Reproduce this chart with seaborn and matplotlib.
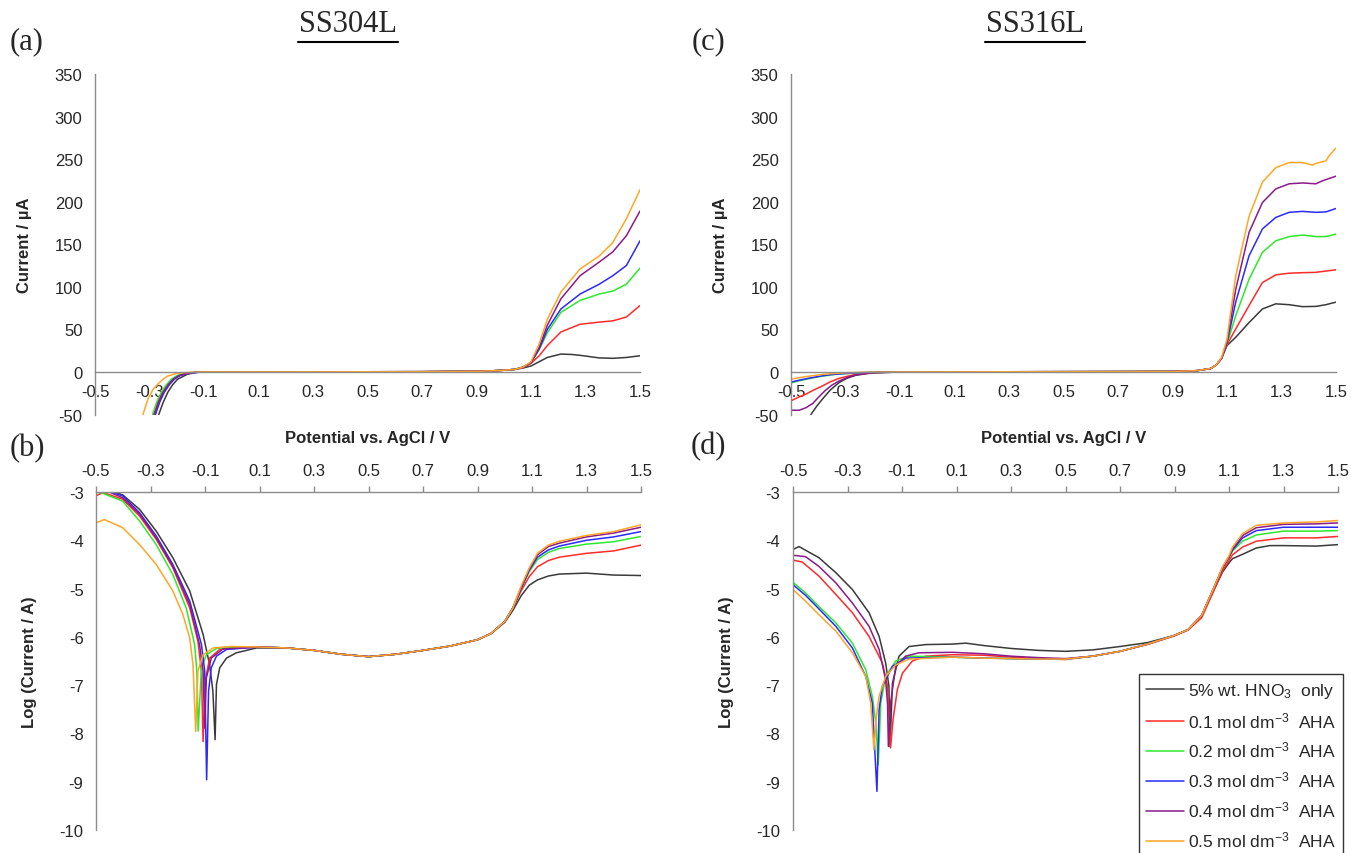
import numpy as np
import pandas as pd
import matplotlib.pyplot as plt
import seaborn as sns
from matplotlib.lines import Line2D

LABELS = [r"5% wt. HNO$_3$  only", r"0.1 mol dm$^{-3}$  AHA", r"0.2 mol dm$^{-3}$  AHA",
          r"0.3 mol dm$^{-3}$  AHA", r"0.4 mol dm$^{-3}$  AHA", r"0.5 mol dm$^{-3}$  AHA"]
COLORS = ["#3a3a3a", "#ff2a2a", "#2ee82e", "#2a2aff", "#8b1a8b", "#ffa626"]

XTICKS = [-0.5, -0.3, -0.1, 0.1, 0.3, 0.5, 0.7, 0.9, 1.1, 1.3, 1.5]
XTICK_LABELS = ["-0.5", "-0.3", "-0.1", "0.1", "0.3", "0.5", "0.7", "0.9", "1.1", "1.3", "1.5"]
YTICKS_LIN = [-50, 0, 50, 100, 150, 200, 250, 300, 350]
YTICKS_LOG = [-10, -9, -8, -7, -6, -5, -4, -3]

# (a) SS304L, current in uA
a_black_x = [-0.266, -0.25, -0.233, -0.215, -0.197, -0.16, -0.124, -0.1, 0.3, 0.7, 0.9, 0.95, 1.0, 1.04, 1.07, 1.1, 1.13, 1.16, 1.21, 1.25, 1.28, 1.35, 1.4, 1.45, 1.5]
a_black_y = [-50, -36, -24, -15, -8.6, -2.5, -0.5, 0, 0.1, 0.3, 0.8, 1.2, 2, 3, 4.5, 7, 12, 17, 21, 20.5, 19.5, 16.5, 16, 17, 19]
a_red_x = [-0.285, -0.269, -0.253, -0.234, -0.216, -0.196, -0.176, -0.136, -0.1, 0.3, 0.7, 0.9, 0.95, 1.0, 1.04, 1.07, 1.1, 1.13, 1.16, 1.21, 1.28, 1.35, 1.4, 1.45, 1.5]
a_red_y = [-50, -35, -24, -15, -8.6, -4.5, -2.5, -0.5, 0, 0.1, 0.3, 0.8, 1.2, 2, 3, 5, 10, 19, 31, 47, 56, 58.5, 60, 64.5, 78]
a_green_x = [-0.289, -0.273, -0.257, -0.238, -0.22, -0.2, -0.18, -0.14, -0.1, 0.3, 0.7, 0.9, 0.95, 1.0, 1.04, 1.07, 1.1, 1.13, 1.16, 1.21, 1.28, 1.35, 1.4, 1.45, 1.5]
a_green_y = [-50, -35, -24, -15, -8.6, -4.5, -2.5, -0.5, 0, 0.1, 0.3, 0.8, 1.2, 2, 3, 5.5, 11, 26, 46, 70, 84, 91.5, 95, 103, 122]
a_blue_x = [-0.278, -0.262, -0.246, -0.227, -0.209, -0.189, -0.169, -0.129, -0.1, 0.3, 0.7, 0.9, 0.95, 1.0, 1.04, 1.07, 1.1, 1.13, 1.16, 1.21, 1.28, 1.35, 1.4, 1.45, 1.5]
a_blue_y = [-50, -35, -24, -15, -8.6, -4.5, -2.5, -0.5, 0, 0.1, 0.3, 0.8, 1.2, 2, 3, 5.5, 11, 27, 50, 74, 91.5, 103, 113, 125, 154]
a_purple_x = [-0.282, -0.266, -0.25, -0.231, -0.213, -0.193, -0.173, -0.133, -0.1, 0.3, 0.7, 0.9, 0.95, 1.0, 1.04, 1.07, 1.1, 1.13, 1.16, 1.21, 1.28, 1.35, 1.4, 1.45, 1.5]
a_purple_y = [-50, -35, -24, -15, -8.6, -4.5, -2.5, -0.5, 0, 0.1, 0.3, 0.8, 1.2, 2, 3, 5.5, 11, 29, 55, 86, 113, 129, 141, 160, 189]
a_orange_x = [-0.324, -0.306, -0.288, -0.27, -0.25, -0.233, -0.2, -0.18, -0.14, -0.1, 0.3, 0.7, 0.9, 0.95, 1.0, 1.04, 1.07, 1.1, 1.13, 1.16, 1.21, 1.28, 1.35, 1.4, 1.45, 1.5]
a_orange_y = [-50, -32, -21, -14.5, -8.5, -4.7, -1.8, -1, -0.3, 0, 0.1, 0.3, 0.8, 1.2, 2, 3, 5.5, 12, 33, 62, 94, 121, 136, 152, 180, 214]

# (b) SS304L, log current
b_black_x = [-0.46, -0.433, -0.402, -0.34, -0.279, -0.218, -0.156, -0.107, -0.083, -0.071, -0.063, -0.058, -0.046, -0.021, 0.015, 0.089, 0.2, 0.3, 0.4, 0.5, 0.6, 0.7, 0.8, 0.9, 0.95, 1.0, 1.03, 1.06, 1.09, 1.12, 1.16, 1.2, 1.3, 1.4, 1.5]
b_black_y = [-2.85, -3.0, -3.06, -3.36, -3.81, -4.36, -5.05, -5.95, -6.58, -7.13, -8.13, -6.99, -6.64, -6.44, -6.33, -6.23, -6.23, -6.28, -6.36, -6.41, -6.36, -6.28, -6.19, -6.06, -5.93, -5.7, -5.45, -5.15, -4.93, -4.82, -4.74, -4.7, -4.68, -4.72, -4.73]
b_red_x = [-0.5, -0.475, -0.402, -0.34, -0.279, -0.218, -0.156, -0.126, -0.113, -0.107, -0.097, -0.083, -0.046, 0.0, 0.1, 0.2, 0.3, 0.4, 0.5, 0.6, 0.7, 0.8, 0.9, 0.95, 1.0, 1.03, 1.06, 1.09, 1.12, 1.16, 1.2, 1.3, 1.4, 1.5]
b_red_y = [-3.08, -3.01, -3.15, -3.5, -3.98, -4.57, -5.4, -6.09, -6.71, -8.17, -6.85, -6.44, -6.26, -6.22, -6.21, -6.23, -6.28, -6.36, -6.41, -6.36, -6.28, -6.19, -6.06, -5.93, -5.68, -5.4, -5.05, -4.75, -4.55, -4.42, -4.35, -4.27, -4.22, -4.1]
b_green_x = [-0.5, -0.488, -0.402, -0.34, -0.279, -0.218, -0.169, -0.138, -0.13, -0.125, -0.113, -0.095, -0.058, 0.0, 0.1, 0.2, 0.3, 0.4, 0.5, 0.6, 0.7, 0.8, 0.9, 0.95, 1.0, 1.03, 1.06, 1.09, 1.12, 1.16, 1.2, 1.3, 1.4, 1.5]
b_green_y = [-3.02, -3.0, -3.19, -3.6, -4.09, -4.71, -5.4, -6.16, -6.71, -7.95, -6.64, -6.37, -6.24, -6.21, -6.21, -6.23, -6.28, -6.36, -6.41, -6.36, -6.28, -6.19, -6.06, -5.93, -5.68, -5.4, -5.0, -4.65, -4.4, -4.25, -4.17, -4.08, -4.03, -3.92]
b_blue_x = [-0.5, -0.445, -0.402, -0.34, -0.279, -0.218, -0.156, -0.113, -0.101, -0.094, -0.087, -0.077, -0.058, -0.021, 0.1, 0.2, 0.3, 0.4, 0.5, 0.6, 0.7, 0.8, 0.9, 0.95, 1.0, 1.03, 1.06, 1.09, 1.12, 1.16, 1.2, 1.3, 1.4, 1.5]
b_blue_y = [-2.85, -3.0, -3.08, -3.43, -3.91, -4.5, -5.26, -6.16, -6.71, -8.96, -7.13, -6.64, -6.4, -6.26, -6.21, -6.23, -6.28, -6.36, -6.41, -6.36, -6.28, -6.19, -6.06, -5.93, -5.68, -5.4, -5.0, -4.62, -4.35, -4.2, -4.12, -4.0, -3.93, -3.82]
b_purple_x = [-0.5, -0.451, -0.402, -0.34, -0.279, -0.218, -0.156, -0.12, -0.107, -0.101, -0.095, -0.077, -0.034, 0.1, 0.2, 0.3, 0.4, 0.5, 0.6, 0.7, 0.8, 0.9, 0.95, 1.0, 1.03, 1.06, 1.09, 1.12, 1.16, 1.2, 1.3, 1.4, 1.5]
b_purple_y = [-2.9, -3.0, -3.12, -3.46, -3.95, -4.54, -5.33, -6.16, -6.71, -7.89, -6.85, -6.44, -6.25, -6.21, -6.23, -6.28, -6.36, -6.41, -6.36, -6.28, -6.19, -6.06, -5.93, -5.68, -5.4, -4.98, -4.6, -4.3, -4.13, -4.06, -3.93, -3.85, -3.73]
b_orange_x = [-0.5, -0.469, -0.402, -0.34, -0.279, -0.218, -0.181, -0.156, -0.144, -0.134, -0.126, -0.107, -0.07, -0.009, 0.1, 0.2, 0.3, 0.4, 0.5, 0.6, 0.7, 0.8, 0.9, 0.95, 1.0, 1.03, 1.06, 1.09, 1.12, 1.16, 1.2, 1.3, 1.4, 1.5]
b_orange_y = [-3.64, -3.57, -3.74, -4.09, -4.5, -5.05, -5.54, -6.02, -6.58, -7.96, -6.71, -6.37, -6.23, -6.2, -6.21, -6.23, -6.28, -6.36, -6.41, -6.36, -6.28, -6.19, -6.06, -5.93, -5.68, -5.4, -4.95, -4.57, -4.27, -4.1, -4.02, -3.9, -3.82, -3.68]

# (c) SS316L, current in uA
c_black_x = [-0.427, -0.405, -0.385, -0.355, -0.324, -0.295, -0.263, -0.22, -0.18, -0.1, 0.3, 0.7, 0.9, 0.99, 1.04, 1.06, 1.08, 1.1, 1.132, 1.181, 1.23, 1.279, 1.328, 1.377, 1.426, 1.463, 1.5]
c_black_y = [-50, -40, -32, -21, -12.6, -7.5, -4, -1.8, -1, 0, 0.2, 0.4, 0.6, 1.5, 4, 8, 16, 31, 40.7, 58, 74, 80, 79, 76.7, 77, 79, 82]
c_red_x = [-0.5, -0.475, -0.445, -0.415, -0.385, -0.355, -0.324, -0.29, -0.263, -0.2, -0.1, 0.3, 0.7, 0.9, 0.99, 1.04, 1.06, 1.08, 1.1, 1.132, 1.181, 1.23, 1.279, 1.328, 1.377, 1.426, 1.5]
c_red_y = [-34, -30, -26, -21, -16.5, -11.5, -7.6, -4.8, -3, -0.8, 0, 0.2, 0.4, 0.6, 1.5, 4, 8, 16, 32, 50.5, 78, 105, 114, 116, 116.6, 117, 120]
c_green_x = [-0.5, -0.475, -0.445, -0.415, -0.385, -0.35, -0.3, -0.25, -0.2, -0.1, 0.3, 0.7, 0.9, 0.99, 1.04, 1.06, 1.08, 1.1, 1.132, 1.181, 1.23, 1.279, 1.328, 1.377, 1.426, 1.463, 1.5]
c_green_y = [-13, -10.8, -8.7, -6.7, -5, -3.3, -2, -1, -0.5, 0, 0.2, 0.4, 0.6, 1.5, 4, 8, 16, 33, 66, 109, 140.5, 154, 159, 160.8, 159, 159, 162]
c_blue_x = [-0.5, -0.475, -0.445, -0.415, -0.385, -0.35, -0.3, -0.25, -0.2, -0.1, 0.3, 0.7, 0.9, 0.99, 1.04, 1.06, 1.08, 1.1, 1.132, 1.181, 1.23, 1.279, 1.328, 1.377, 1.426, 1.463, 1.5]
c_blue_y = [-12, -10, -8, -6.2, -4.5, -3, -1.8, -0.9, -0.4, 0, 0.2, 0.4, 0.6, 1.5, 4, 8, 16, 34, 82, 136.5, 168, 181.5, 187.5, 188.6, 187.5, 188, 192]
c_purple_x = [-0.5, -0.47, -0.445, -0.42, -0.4, -0.375, -0.35, -0.324, -0.29, -0.263, -0.2, -0.1, 0.3, 0.7, 0.9, 0.99, 1.04, 1.06, 1.08, 1.1, 1.132, 1.181, 1.23, 1.279, 1.328, 1.377, 1.426, 1.45, 1.5]
c_purple_y = [-45, -45, -42, -37, -30, -22, -15.5, -10.7, -6, -3.5, -1, 0, 0.2, 0.4, 0.6, 1.5, 4, 8, 16, 35, 97, 164, 199, 215, 221, 222, 221, 224.5, 230]
c_orange_x = [-0.5, -0.475, -0.445, -0.415, -0.385, -0.35, -0.3, -0.25, -0.2, -0.1, 0.3, 0.7, 0.9, 0.99, 1.04, 1.06, 1.08, 1.1, 1.132, 1.181, 1.23, 1.279, 1.328, 1.377, 1.414, 1.426, 1.463, 1.475, 1.5]
c_orange_y = [-8.7, -7, -5.5, -4.2, -3, -2, -1, -0.5, -0.3, 0, 0.2, 0.4, 0.6, 1.5, 4, 8, 17, 38.7, 113, 183, 223, 240, 246, 246, 243, 245, 248, 254, 263]

# (d) SS316L, log current
d_black_x = [-0.5, -0.478, -0.405, -0.343, -0.282, -0.221, -0.184, -0.16, -0.148, -0.144, -0.135, -0.111, -0.074, -0.013, 0.085, 0.134, 0.2, 0.3, 0.4, 0.5, 0.6, 0.7, 0.8, 0.9, 0.95, 1.0, 1.04, 1.077, 1.1, 1.113, 1.15, 1.2, 1.25, 1.3, 1.42, 1.5]
d_black_y = [-4.19, -4.13, -4.36, -4.67, -5.02, -5.5, -5.99, -6.54, -7.02, -8.27, -6.96, -6.4, -6.2, -6.16, -6.15, -6.13, -6.18, -6.24, -6.28, -6.3, -6.27, -6.2, -6.12, -5.97, -5.85, -5.57, -5.08, -4.65, -4.47, -4.38, -4.29, -4.16, -4.11, -4.11, -4.12, -4.09]
d_red_x = [-0.5, -0.466, -0.405, -0.343, -0.282, -0.221, -0.172, -0.153, -0.142, -0.133, -0.117, -0.098, -0.062, -0.013, 0.085, 0.2, 0.3, 0.4, 0.5, 0.6, 0.7, 0.8, 0.9, 0.95, 1.0, 1.04, 1.077, 1.1, 1.113, 1.15, 1.2, 1.3, 1.42, 1.5]
d_red_y = [-4.41, -4.45, -4.74, -5.12, -5.5, -5.99, -6.54, -7.02, -8.3, -7.72, -7.09, -6.75, -6.5, -6.4, -6.37, -6.38, -6.42, -6.45, -6.47, -6.4, -6.3, -6.16, -5.98, -5.86, -5.6, -5.1, -4.62, -4.42, -4.3, -4.14, -4.02, -3.95, -3.95, -3.92]
d_green_x = [-0.5, -0.454, -0.405, -0.343, -0.282, -0.233, -0.209, -0.196, -0.187, -0.178, -0.16, -0.123, -0.074, 0.085, 0.2, 0.3, 0.4, 0.5, 0.6, 0.7, 0.8, 0.9, 0.95, 1.0, 1.04, 1.077, 1.1, 1.113, 1.15, 1.2, 1.3, 1.42, 1.5]
d_green_y = [-4.87, -5.09, -5.37, -5.71, -6.13, -6.68, -7.23, -7.79, -8.65, -7.37, -6.82, -6.5, -6.4, -6.42, -6.44, -6.45, -6.46, -6.46, -6.4, -6.3, -6.15, -5.97, -5.85, -5.55, -5.04, -4.56, -4.35, -4.22, -4.02, -3.89, -3.81, -3.81, -3.8]
d_blue_x = [-0.5, -0.454, -0.405, -0.343, -0.282, -0.233, -0.209, -0.192, -0.184, -0.172, -0.135, -0.086, 0.085, 0.2, 0.3, 0.4, 0.5, 0.6, 0.7, 0.8, 0.9, 0.95, 1.0, 1.04, 1.077, 1.1, 1.113, 1.15, 1.2, 1.3, 1.42, 1.5]
d_blue_y = [-4.92, -5.14, -5.42, -5.78, -6.23, -6.82, -7.37, -9.2, -7.51, -7.02, -6.61, -6.44, -6.42, -6.44, -6.45, -6.46, -6.46, -6.4, -6.3, -6.15, -5.97, -5.85, -5.55, -5.04, -4.56, -4.35, -4.2, -3.95, -3.8, -3.73, -3.73, -3.73]
d_purple_x = [-0.5, -0.454, -0.405, -0.343, -0.282, -0.221, -0.184, -0.16, -0.153, -0.15, -0.142, -0.123, -0.087, -0.038, 0.085, 0.2, 0.3, 0.4, 0.5, 0.6, 0.7, 0.8, 0.9, 0.95, 1.0, 1.04, 1.077, 1.1, 1.113, 1.15, 1.2, 1.3, 1.42, 1.5]
d_purple_y = [-4.31, -4.34, -4.54, -4.88, -5.3, -5.78, -6.26, -6.89, -7.4, -8.27, -7.37, -6.61, -6.4, -6.33, -6.32, -6.35, -6.4, -6.43, -6.45, -6.4, -6.3, -6.15, -5.97, -5.85, -5.55, -5.04, -4.56, -4.35, -4.18, -3.9, -3.74, -3.67, -3.66, -3.64]
d_orange_x = [-0.5, -0.454, -0.405, -0.343, -0.282, -0.233, -0.215, -0.203, -0.194, -0.184, -0.16, -0.123, -0.074, 0.085, 0.2, 0.3, 0.4, 0.5, 0.6, 0.7, 0.8, 0.9, 0.95, 1.0, 1.04, 1.077, 1.1, 1.113, 1.15, 1.2, 1.3, 1.42, 1.5]
d_orange_y = [-5.02, -5.26, -5.54, -5.88, -6.33, -6.82, -7.37, -8.34, -7.65, -7.23, -6.82, -6.58, -6.46, -6.42, -6.44, -6.45, -6.46, -6.46, -6.4, -6.3, -6.15, -5.97, -5.85, -5.55, -5.04, -4.54, -4.32, -4.14, -3.86, -3.69, -3.64, -3.62, -3.59]


def make_frame(series):
    """
    Builds long-format DataFrame from list of (x, y) pairs in LABELS order.
    """
    frames = []
    for label, (xs, ys) in zip(LABELS, series):
        frames.append(pd.DataFrame({'potential': xs, 'current': ys, 'solution': label}))
    return pd.concat(frames, ignore_index=True)


def style_axis(ax, log_panel):
    """
    Excel-like axis look: linear panels have x axis through zero, log panels on top.
    """
    ax.set_xlim(-0.5, 1.5)
    ax.set_xticks(XTICKS)
    ax.set_xticklabels(XTICK_LABELS)
    ax.spines['right'].set_visible(False)
    for side in ['left', 'top', 'bottom']:
        ax.spines[side].set_color('#8c8c8c')
        ax.spines[side].set_linewidth(1.0)
    ax.tick_params(axis='both', labelsize=12, length=4, width=1.0, color='#8c8c8c', pad=5)
    if log_panel:
        ax.set_ylim(-10, -3)
        ax.set_yticks(YTICKS_LOG)
        ax.spines['bottom'].set_visible(False)
        ax.xaxis.tick_top()
        ax.tick_params(axis='x', pad=6)
        ax.set_xlabel('')
        ax.set_ylabel('Log (Current / A)', fontweight='bold', fontsize=12)
        ax.yaxis.set_label_coords(-0.108, 0.5)
    else:
        ax.set_ylim(-50, 350)
        ax.set_yticks(YTICKS_LIN)
        ax.spines['top'].set_visible(False)
        ax.spines['bottom'].set_position(('data', 0))
        ax.set_xlabel('Potential vs. AgCl / V', fontweight='bold', fontsize=12)
        ax.xaxis.set_label_coords(0.5, -0.045)
        ax.set_ylabel('Current / µA', fontweight='bold', fontsize=12)
        ax.yaxis.set_label_coords(-0.115, 0.5)


sns.set_style('white')
plt.rcParams['font.family'] = ['Liberation Sans', 'DejaVu Sans']
plt.rcParams['axes.unicode_minus'] = False
plt.rcParams['mathtext.fontset'] = 'custom'
plt.rcParams['mathtext.rm'] = 'Liberation Sans'
plt.rcParams['mathtext.it'] = 'Liberation Sans:italic'
plt.rcParams['mathtext.bf'] = 'Liberation Sans:bold'

panels = {
    'a': make_frame([(a_black_x, a_black_y), (a_red_x, a_red_y), (a_green_x, a_green_y),
                     (a_blue_x, a_blue_y), (a_purple_x, a_purple_y), (a_orange_x, a_orange_y)]),
    'b': make_frame([(b_black_x, b_black_y), (b_red_x, b_red_y), (b_green_x, b_green_y),
                     (b_blue_x, b_blue_y), (b_purple_x, b_purple_y), (b_orange_x, b_orange_y)]),
    'c': make_frame([(c_black_x, c_black_y), (c_red_x, c_red_y), (c_green_x, c_green_y),
                     (c_blue_x, c_blue_y), (c_purple_x, c_purple_y), (c_orange_x, c_orange_y)]),
    'd': make_frame([(d_black_x, d_black_y), (d_red_x, d_red_y), (d_green_x, d_green_y),
                     (d_blue_x, d_blue_y), (d_purple_x, d_purple_y), (d_orange_x, d_orange_y)]),
}

W, H = 1351, 854
fig = plt.figure(figsize=(W / 100, H / 100), dpi=100)
rects = {
    'a': [95 / W, 1 - 415.5 / H, 545 / W, 340.5 / H],
    'b': [96 / W, 1 - 831 / H, 545 / W, 338 / H],
    'c': [791 / W, 1 - 415.5 / H, 545 / W, 340.5 / H],
    'd': [793 / W, 1 - 831 / H, 545 / W, 338 / H],
}
for key, df in panels.items():
    ax = fig.add_axes(rects[key])
    sns.lineplot(data=df, x='potential', y='current', hue='solution', hue_order=LABELS,
                 palette=COLORS, estimator=None, sort=False, linewidth=1.1,
                 legend=(key == 'd'), ax=ax)
    style_axis(ax, log_panel=key in ('b', 'd'))
    if key == 'd':
        sns.move_legend(ax, 'upper left', bbox_to_anchor=(1139 / W, 1 - 675 / H),
                        bbox_transform=fig.transFigure, title=None, frameon=True,
                        fancybox=False, edgecolor='#333333', framealpha=1, borderaxespad=0,
                        handlelength=2.2, handletextpad=0.25, labelspacing=0.58,
                        borderpad=0.4, fontsize=12.5)
        ax.get_legend().get_frame().set_linewidth(1.0)

# panel letters and underlined alloy titles
serif = ['Liberation Serif', 'DejaVu Serif']
for letter, (px, py) in {'(a)': (27, 42), '(b)': (27, 449), '(c)': (708, 42), '(d)': (708, 447)}.items():
    fig.text(px / W, 1 - py / H, letter, family=serif, fontsize=22, ha='center', va='center')
for title, px, x0, x1 in [('SS304L', 348, 298, 398), ('SS316L', 1035, 985, 1085)]:
    fig.text(px / W, 1 - 25 / H, title, family=serif, fontsize=22, ha='center', va='center')
    fig.add_artist(Line2D([x0 / W, x1 / W], [1 - 43 / H, 1 - 43 / H], color='black', lw=1.5))

plt.savefig('out.png', dpi=100)
